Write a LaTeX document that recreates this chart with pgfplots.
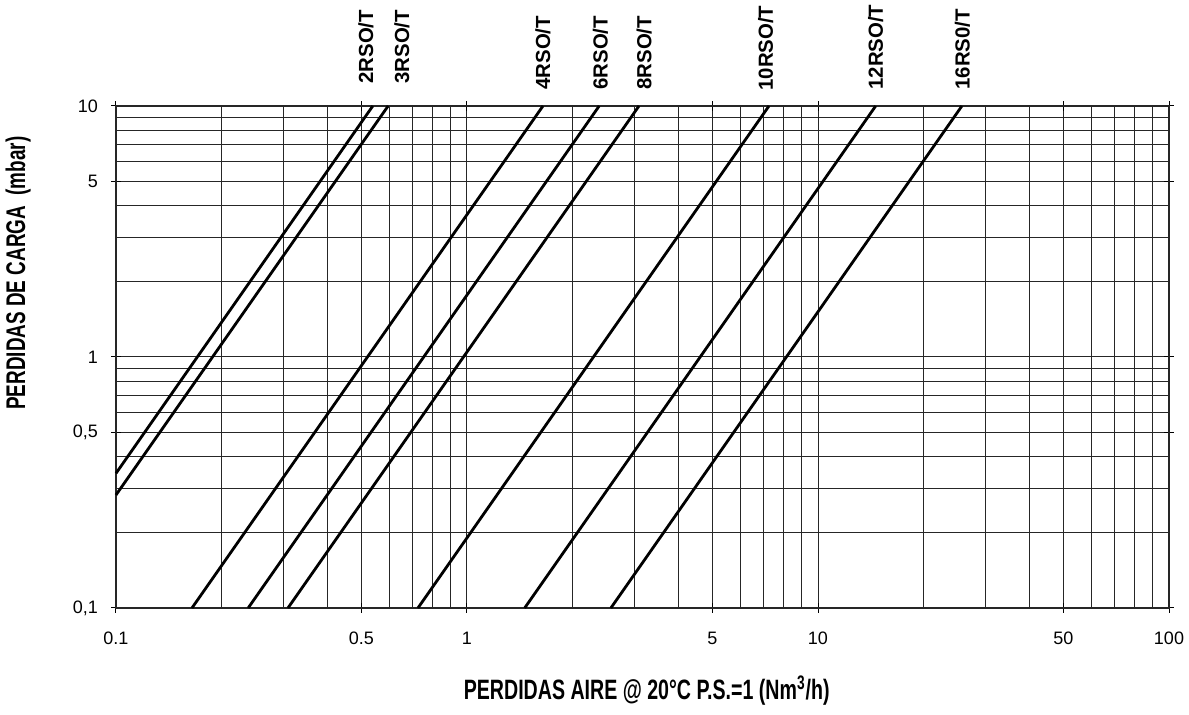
\documentclass[border=0pt]{standalone}
\usepackage{fontspec}
\setmainfont{Liberation Sans}
\newfontfamily\condfont[FakeStretch=0.7]{Liberation Sans Bold}
\usepackage{pgfplots}
\pgfplotsset{compat=1.18}
\pgfplotsset{curve/.style={black, solid, line width=1.4pt, mark=none}}
\begin{document}
\begin{tikzpicture}
\begin{axis}[
 name=ax,
 xmode=log, ymode=log,
 scale only axis, width=526.5pt, height=251pt,
 xmin=0.1, xmax=100, ymin=0.1, ymax=10,
 xtick={0.1,0.5,1,5,10,50,100},
 xticklabels={0.1,0.5,1,5,10,50,100},
 ytick={0.1,0.5,1,5,10},
 yticklabels={{0,1},{0,5},1,5,10},
 minor xtick={0.2,0.3,0.4,0.6,0.7,0.8,0.9,2,3,4,6,7,8,9,20,30,40,60,70,80,90},
 minor ytick={0.2,0.3,0.4,0.6,0.7,0.8,0.9,2,3,4,6,7,8,9},
 grid=both,
 major grid style={black!85, line width=0.5pt},
 minor grid style={black!85, line width=0.5pt},
 axis line style={black!85, line width=0.6pt},
 tick style={black, line width=0.5pt},
 tick align=center,
 major tick length=5pt,
 minor tick length=0pt,
 ticklabel style={font=\fontsize{9}{10}\selectfont},
 xticklabel style={yshift=-6pt},
 yticklabel style={xshift=-3pt},
 clip=false,
 xlabel={PERDIDAS AIRE @ 20°C P.S.=1 (Nm\textsuperscript{3}/h)},
 ylabel={PERDIDAS DE CARGA\ \ (mbar)},
 xlabel style={at={(axis description cs:0.504,-0.165)}, anchor=center, font=\condfont\fontsize{14}{16}\selectfont},
 ylabel style={at={(axis description cs:-0.093,0.667)}, anchor=center, font=\condfont\fontsize{13.5}{16}\selectfont},
]
\addplot[curve] coordinates {(0.1,0.344) (0.539,10)};
\addplot[curve] coordinates {(0.1,0.282) (0.596,10)};
\addplot[curve] coordinates {(0.1646,0.1) (1.646,10)};
\addplot[curve] coordinates {(0.238,0.1) (2.38,10)};
\addplot[curve] coordinates {(0.309,0.1) (3.09,10)};
\addplot[curve] coordinates {(0.725,0.1) (7.25,10)};
\addplot[curve] coordinates {(1.46,0.1) (14.6,10)};
\addplot[curve] coordinates {(2.57,0.1) (25.7,10)};
\tikzset{lab/.style={yshift=#1, rotate=90, anchor=west, inner sep=0pt, font=\bfseries\fontsize{10.2}{12}\selectfont}}
\node[lab=11pt] at (axis cs:0.5155,10) {2RSO/T};
\node[lab=11pt] at (axis cs:0.653,10) {3RSO/T};
\node[lab=8pt] at (axis cs:1.646,10) {4RSO/T};
\node[lab=8pt] at (axis cs:2.40,10) {6RSO/T};
\node[lab=8pt] at (axis cs:3.2,10) {8RSO/T};
\node[lab=7.5pt] at (axis cs:7.1,10) {10RSO/T};
\node[lab=8pt] at (axis cs:14.6,10) {12RSO/T};
\node[lab=8pt] at (axis cs:25.8,10) {16RS0/T};
\end{axis}
\pgfresetboundingbox
\path ([shift={(-58pt,-53.5pt)}]ax.south west) rectangle ([shift={(536.5pt,304pt)}]ax.south west);
\end{tikzpicture}
\end{document}
